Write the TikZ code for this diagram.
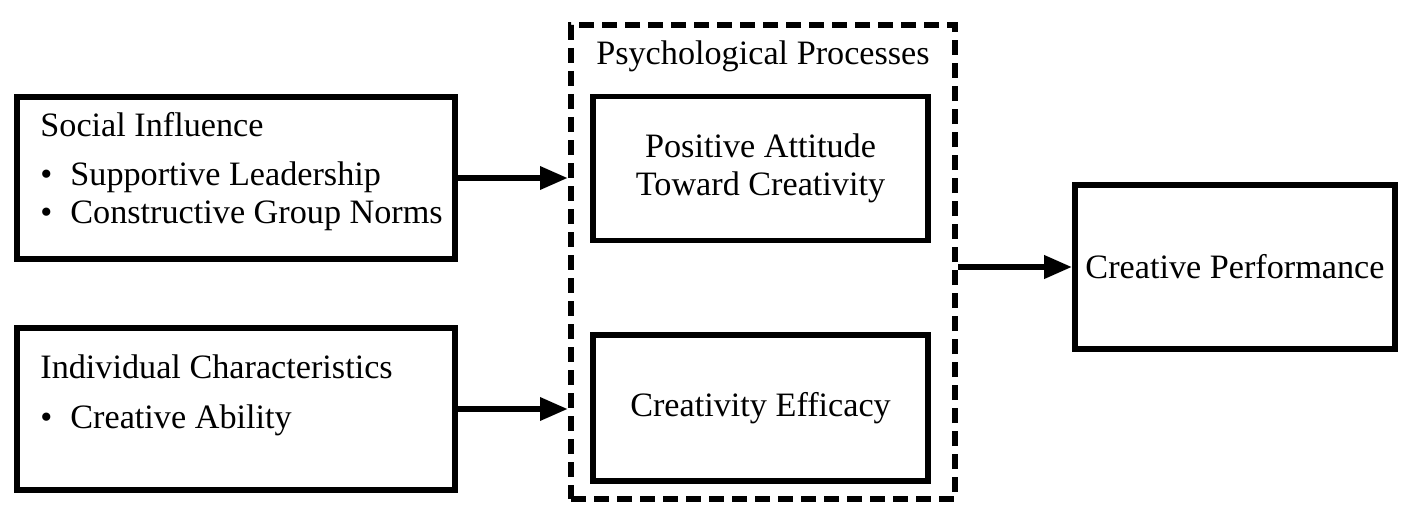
\documentclass[tikz,border=0pt]{standalone}
\usepackage{fontspec}
\setmainfont{Liberation Serif}
\usetikzlibrary{arrows.meta,positioning}
\newcommand{\bitem}[1]{\makebox[15pt][l]{\textbullet}#1}
\begin{document}
\begin{tikzpicture}[x=.5pt,y=-.5pt,
	box/.style={draw,line width=2.8pt,inner sep=0pt},
	txt/.style={inner sep=0pt,font=\fontsize{17.1pt}{19pt}\selectfont},
	arr/.style={line width=3.2pt,-{Triangle[length=14pt,width=11pt]}}]
	\useasboundingbox (0,0) rectangle (1406,524);
	% left side
	\node[box,minimum width=219pt,minimum height=81pt] (si) at (236,178) {};
	\node[txt,anchor=base west] (sih) at (40,136) {Social Influence};
	\node[txt,anchor=base west] (si1) at (40,185) {\bitem{Supportive Leadership}};
	\node[txt,anchor=base west] (si2) at (40,223) {\bitem{Constructive Group Norms}};
	\node[box,minimum width=219pt,minimum height=81pt] (ic) at (236,409) {};
	\node[txt,anchor=base west] (ich) at (40,378) {Individual Characteristics};
	\node[txt,anchor=base west] (ic1) at (40,428) {\bitem{Creative Ability}};
	% psychological processes
	\node[box,line width=3pt,dash pattern=on 7.5pt off 4pt,minimum width=192pt,minimum height=237pt] (pp) at (763,262) {};
	\node[txt,anchor=base] (pph) at (763,65) {Psychological Processes};
	\node[box,txt,align=center,minimum width=167.5pt,minimum height=72pt] (pa) at (760.5,168.5) {Positive Attitude\\Toward Creativity};
	\node[box,txt,minimum width=167.5pt,minimum height=73pt] (ce) at (760.5,408) {Creativity Efficacy};
	% outcome
	\node[box,txt,minimum width=160pt,minimum height=82pt] (cp) at (1235,267) {Creative Performance};
	\draw[arr] (si.east) -- (si.east -| pp.west);
	\draw[arr] (ic.east) -- (ic.east -| pp.west);
	\draw[arr] (pp.east |- cp.west) -- (cp.west);
\end{tikzpicture}
\end{document}
